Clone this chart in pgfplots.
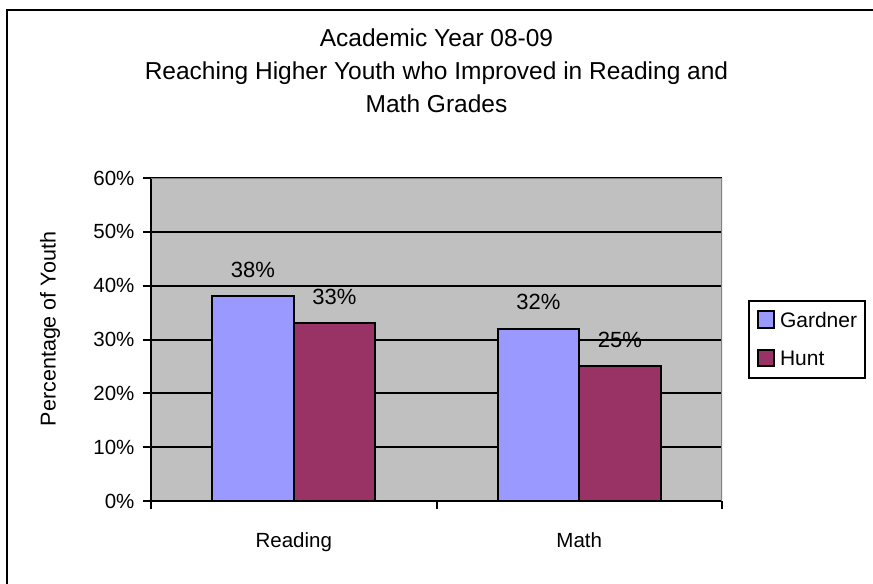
\documentclass[border=0pt]{standalone}
\usepackage{fontspec}
\setmainfont{Liberation Sans}
\usepackage{pgfplots}
\usepackage{pgfplotstable}
\pgfplotsset{compat=1.18}

\definecolor{gardner}{HTML}{9999FF}
\definecolor{hunt}{HTML}{993366}
\definecolor{plotbg}{HTML}{C0C0C0}
\definecolor{framegray}{HTML}{808080}

% share of youth who improved their grades (percent)
\pgfplotstableread{
x gardner hunt
0 38 33
1 32 25
}\grades

\begin{document}
\begin{tikzpicture}
\useasboundingbox (0,0) rectangle (873bp,584bp);
% chart area frame
\draw[line width=2.5bp] (7bp,-5bp) -- (7bp,574bp) -- (880bp,574bp);
\begin{axis}[
  at={(151bp,83bp)}, anchor=south west,
  scale only axis, width=571bp, height=323bp,
  ybar=0pt, bar width=81.5bp,
  xmin=-0.5, xmax=1.5, ymin=0, ymax=60,
  axis background/.style={fill=plotbg},
  axis x line*=bottom, axis y line*=left,
  axis line style={line width=2.5bp, black},
  tick align=outside, major tick length=8bp,
  tick style={black, line width=2bp},
  xtick={-0.5,0.5,1.5}, xticklabels={},
  extra x ticks={0,1}, extra x tick labels={Reading,Math},
  extra x tick style={major tick length=0pt,
    xticklabel style={yshift=-28bp}},
  ytick={0,10,...,60},
  yticklabel={\pgfmathprintnumber{\tick}\%},
  /pgf/number format/assume math mode=true,
  ymajorgrids, grid style={black, line width=2bp},
  xticklabel style={font=\fontsize{20.5bp}{24bp}\selectfont},
  yticklabel style={font=\fontsize{20.5bp}{24bp}\selectfont, xshift=-5bp},
  ylabel={Percentage of Youth},
  ylabel style={font=\fontsize{21.5bp}{25bp}\selectfont,
    at={(axis description cs:0,0.5325)}, anchor=center, yshift=101bp},
  title={Academic Year 08-09\\Reaching Higher Youth who Improved in Reading and\\Math Grades},
  title style={align=center, font=\fontsize{24.5bp}{33bp}\selectfont,
    at={(axis description cs:0.5,1)}, anchor=north, yshift=143bp, inner sep=0pt},
  nodes near coords={\pgfmathprintnumber{\pgfplotspointmeta}\%},
  nodes near coords style={font=\fontsize{22bp}{26bp}\selectfont,
    anchor=base, yshift=19bp, inner sep=0pt},
  legend image code/.code={\draw[#1, line width=2bp] (0bp,-6.5bp) rectangle (16bp,9.5bp);},
  legend style={at={(axis description cs:1,0.5)}, anchor=west, xshift=26bp,
    draw=black, line width=2bp, fill=white,
    font=\fontsize{21bp}{25bp}\selectfont,
    inner xsep=8bp, inner ysep=9bp, row sep=19bp,
    nodes={inner sep=0pt, text height=15bp, text depth=3bp},
    /tikz/every odd column/.append style={column sep=5bp}},
  legend cell align=left,
]
\addplot[fill=gardner, draw=black, line width=2bp] table[x=x, y=gardner] {\grades};
\addplot[fill=hunt, draw=black, line width=2bp] table[x=x, y=hunt] {\grades};
\legend{Gardner, Hunt}
% plot-area border on the top and right sides
\draw[framegray, line width=2.5bp] (rel axis cs:0,1) -- (rel axis cs:1,1) -- (rel axis cs:1,0);
\end{axis}
\end{tikzpicture}
\end{document}
